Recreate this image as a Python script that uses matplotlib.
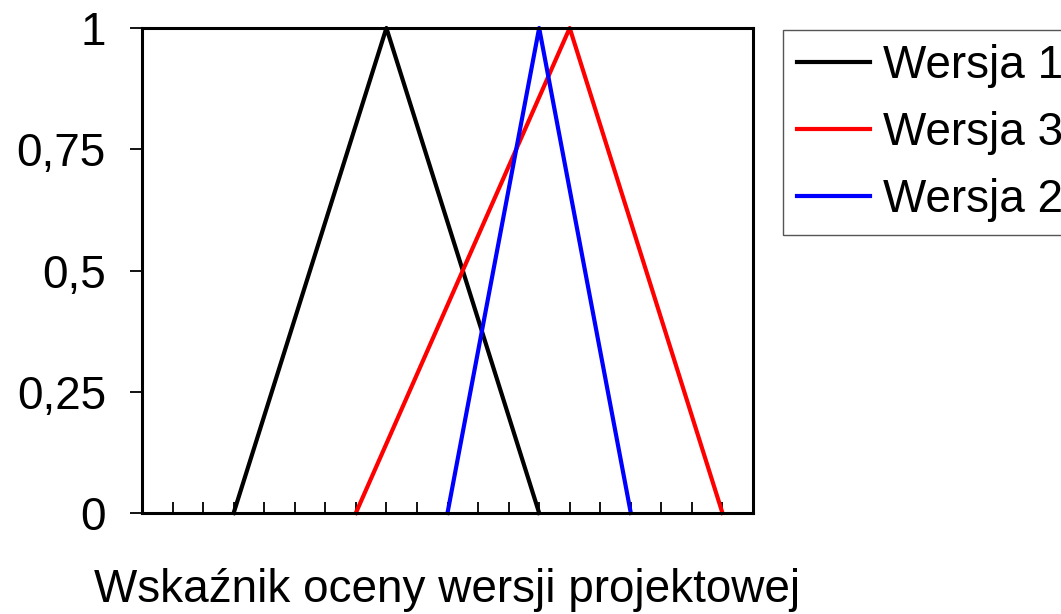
import matplotlib
matplotlib.use("Agg")
import matplotlib.pyplot as plt

# triangular membership functions (x = index, y = membership)
w1_x = [3, 8, 13]
w1_y = [0, 1, 0]
w3_x = [7, 14, 19]
w3_y = [0, 1, 0]
w2_x = [10, 13, 16]
w2_y = [0, 1, 0]

y_ticks = [0, 0.25, 0.5, 0.75, 1]
y_labels = ['0', '0,25', '0,5', '0,75', '1']

plt.rcParams['font.family'] = ['Liberation Sans', 'DejaVu Sans']

fig = plt.figure(figsize=(10.61, 6.14), dpi=100)
ax = fig.add_axes([142/1061, 1-513/614, (753-142)/1061, (513-28)/614])

ax.plot(w1_x, w1_y, color='black', lw=3, label='Wersja 1', clip_on=False)
ax.plot(w3_x, w3_y, color='#ff0000', lw=3, label='Wersja 3', clip_on=False)
ax.plot(w2_x, w2_y, color='#0000ff', lw=3, label='Wersja 2', clip_on=False)

ax.set_xlim(0, 20)
ax.set_ylim(0, 1)
ax.set_xticks(range(0, 21))
ax.set_xticklabels([])
ax.tick_params(axis='x', direction='in', length=8, width=1.3)
ax.set_yticks(y_ticks)
ax.set_yticklabels(y_labels, fontsize=33)
ax.tick_params(axis='y', direction='out', length=9, width=1.3, pad=17)
for s in ax.spines.values():
    s.set_linewidth(2.2)

ax.set_xlabel('Wskaźnik oceny wersji projektowej', fontsize=33, labelpad=36)

leg = fig.legend(loc='upper left', bbox_to_anchor=(783/1061, 1-30/614),
                 fontsize=33, frameon=True, fancybox=False, framealpha=1,
                 edgecolor='#555555', handlelength=1.6, handletextpad=0.28,
                 labelspacing=0.5, borderaxespad=0, borderpad=0.3)
leg.get_frame().set_linewidth(1)

fig.savefig('out.png', dpi=100)
